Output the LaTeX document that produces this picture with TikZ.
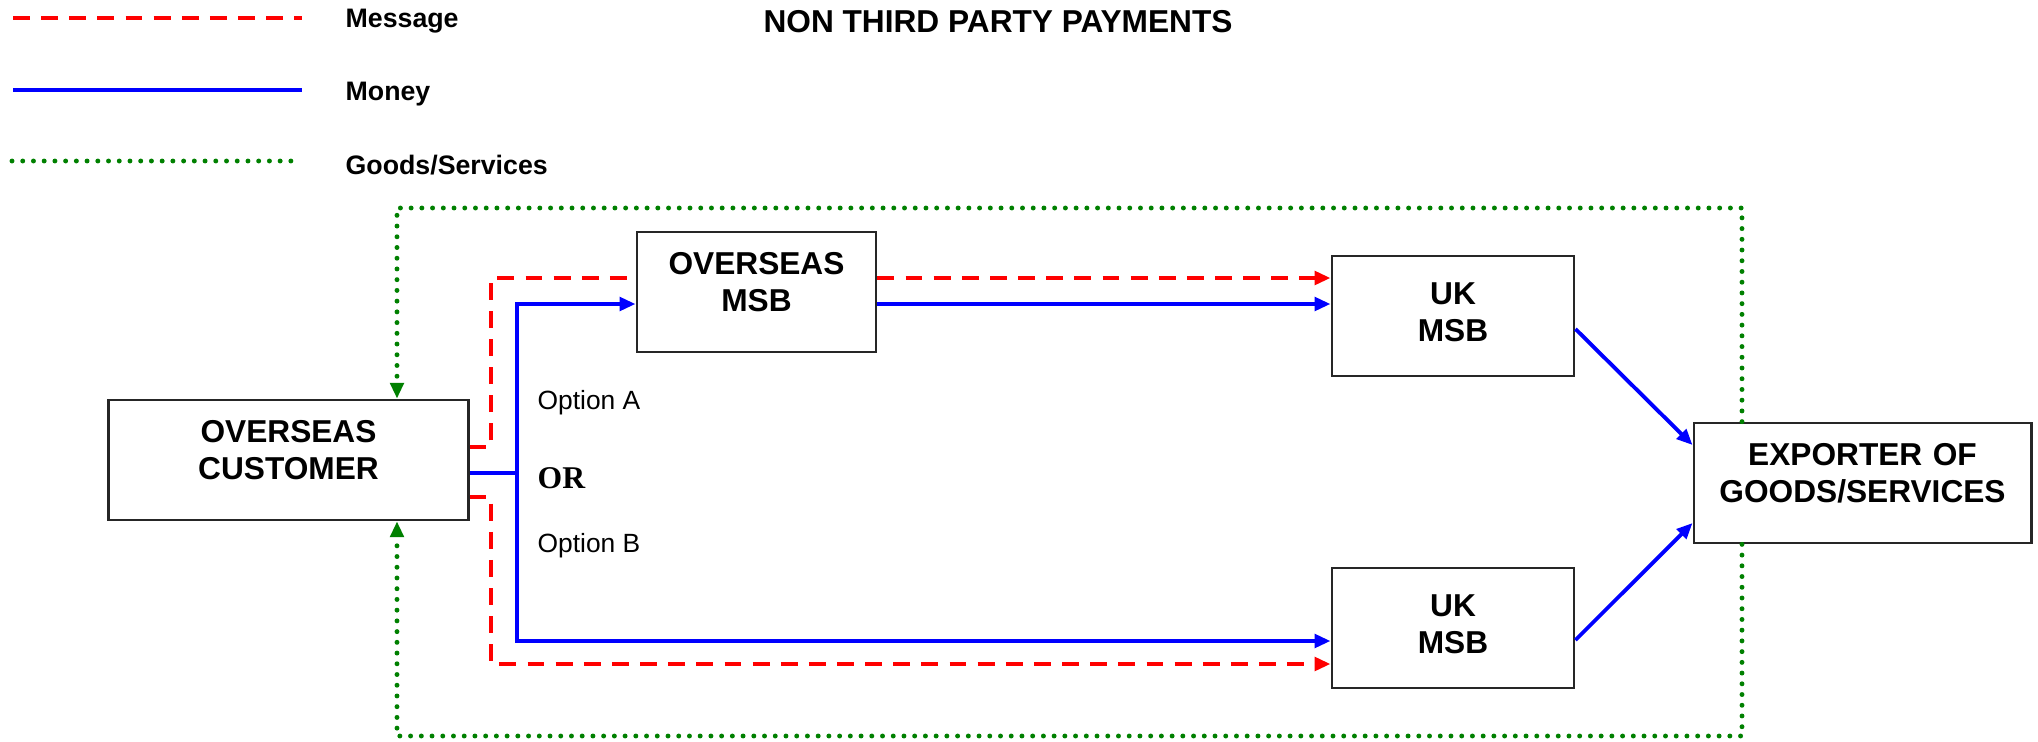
\documentclass[tikz,border=0pt]{standalone}
\usepackage{fontspec}
\setmainfont{Liberation Sans}
\newfontfamily\orfont{Liberation Serif}
\usepackage{xcolor}
\usepackage{tikz}
\usetikzlibrary{positioning,arrows.meta}
\definecolor{msgred}{RGB}{255,0,0}
\definecolor{moneyblue}{RGB}{0,0,255}
\definecolor{goodsgreen}{RGB}{0,128,0}

\begin{document}
\begin{tikzpicture}[x=0.01cm, y=-0.01cm,
  boxnode/.style={draw=black!85, line width=0.8pt, inner sep=0pt, align=center, text height=12.1pt, text depth=22pt, font=\fontsize{9}{10.6}\selectfont\bfseries},
  msgline/.style={draw=msgred, line width=1.2pt, dash pattern=on 4.8pt off 3.2pt},
  moneyline/.style={draw=moneyblue, line width=1.1pt},
  goodsline/.style={draw=goodsgreen, line width=1.4pt, line cap=round, dash pattern=on 0pt off 3.05pt},
  tip/.style={-{Triangle[length=4.5pt, width=3.8pt]}},
  keytext/.style={anchor=west, inner sep=0pt, font=\fontsize{7.6}{9}\selectfont\bfseries},
  opttext/.style={anchor=west, inner sep=0pt, font=\fontsize{7.5}{9}\selectfont}]

\useasboundingbox (0,0) rectangle (2038,742);

\node[font=\fontsize{9}{11}\selectfont\bfseries] at (998,22) (title) {NON THIRD PARTY PAYMENTS};

\draw[msgline] (13,18) -- (302,18);
\node[keytext] at (345,21) (keymsg) {Message};
\draw[moneyline] (13,90) -- (302,90);
\node[keytext] at (345,94) (keymoney) {Money};
\draw[goodsline] (12,161) -- (293,161);
\node[keytext] at (345,165) (keygoods) {Goods/Services};

\node[boxnode, text width=3.59cm] at (288.5, 460) (cust) {OVERSEAS\\CUSTOMER};
\node[boxnode, text width=2.39cm] at (756.5, 292) (omsb) {OVERSEAS\\MSB};
\node[boxnode, text width=2.42cm, text height=13.8pt, text depth=20.3pt] at (1453, 316) (ukmsbA) {UK\\MSB};
\node[boxnode, text width=2.42cm, text height=13.8pt, text depth=20.3pt] at (1453, 628) (ukmsbB) {UK\\MSB};
\node[boxnode, text width=3.37cm] at (1862.5, 483) (exp) {EXPORTER OF\\GOODS/SERVICES};

\node[opttext] at (537,403) (optA) {Option A};
\node[anchor=west, inner sep=0pt, font=\orfont\bfseries\fontsize{9}{11}\selectfont] at (537,478) (or) {OR};
\node[opttext] at (537,546) (optB) {Option B};

\draw[msgline] (cust.east |- 0,447) -| (491,278) -- (omsb.west |- 0,278);
\draw[msgline, tip] (omsb.east |- 0,278) -- (ukmsbA.west |- 0,278);
\draw[msgline, tip] (cust.east |- 0,497) -| (491,664) -- (ukmsbB.west |- 0,664);

\coordinate (split) at (517,473);
\draw[moneyline] (cust.east |- 0,473) -- (split);
\draw[moneyline, tip] (split) |- (omsb.west |- 0,304);
\draw[moneyline, tip] (split) |- (ukmsbB.west |- 0,641);
\draw[moneyline, tip] (omsb.east |- 0,304) -- (ukmsbA.west |- 0,304);
\draw[moneyline, tip] ([yshift=-0.13cm]ukmsbA.east) -- ([yshift=0.38cm]exp.west);
\draw[moneyline, tip] ([yshift=-0.12cm]ukmsbB.east) -- ([yshift=-0.40cm]exp.west);

\draw[goodsline, tip] (exp.north -| 1742,0) |- (397,208) -- (cust.north -| 397,0);
\draw[goodsline, tip] (exp.south -| 1742,0) |- (397,736) -- (cust.south -| 397,0);

\end{tikzpicture}
\end{document}
